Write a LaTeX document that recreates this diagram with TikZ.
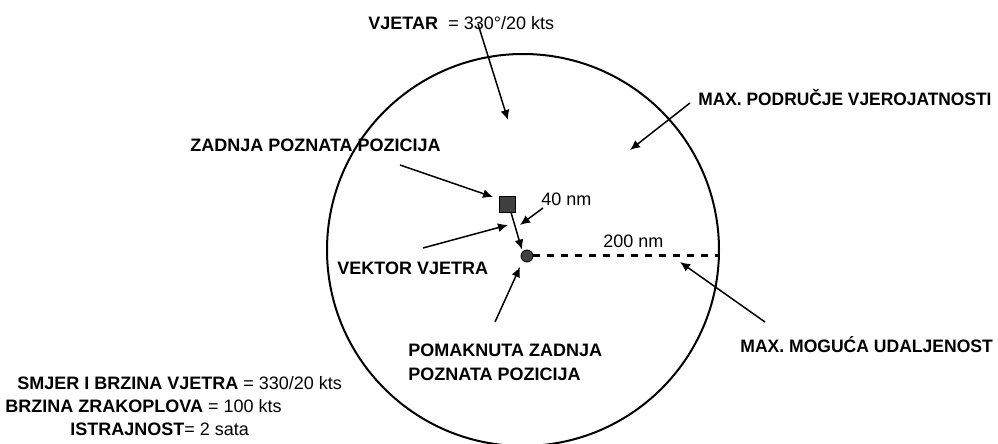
\documentclass[tikz,border=0pt]{standalone}
\usepackage{fontspec}
\usepackage{graphicx}
\setmainfont{Liberation Sans}
\usetikzlibrary{arrows.meta}
\newcommand{\txt}{\fontsize{9}{11}\selectfont}
\tikzset{
  lbl/.style={inner sep=0pt, anchor=base west, font=\txt\bfseries},
  val/.style={inner sep=0pt, anchor=base west, font=\txt},
  arr/.style={line width=0.75pt, -{Latex[length=5pt,width=4.5pt]}},
}
\begin{document}
\begin{tikzpicture}[x=0.5pt,y=-0.5pt]
\useasboundingbox (0,0) rectangle (998,444);
% podrucje
\node[draw, circle, line width=1pt, minimum size=196pt, inner sep=0pt] (krug) at (523,250) {};
\node[draw, fill=black!75, minimum size=8pt, inner sep=0pt] (zpp) at (507,204) {};
\node[draw, circle, fill=black!75, minimum size=6pt, inner sep=0pt] (pzpp) at (527,256) {};
\draw[line width=1.5pt, dash pattern=on 3.5pt off 3.5pt] (pzpp.east) -- (pzpp.east -| krug.east);
\draw[arr, shorten >=1pt] ([xshift=2pt]zpp.south) -- (pzpp.north west);
% tekstovi
\node[lbl] (vjetar) at (368,30) {VJETAR};
\node[val] (vjetar2) at (448,30) {= 330°/20 kts};
\node[lbl] (zadnja) at (190,152) {ZADNJA POZNATA POZICIJA};
\node[val] (d40) at (541,206) {40 nm};
\node[val] (d200) at (603,248) {200 nm};
\node[lbl] (vektor) at (337,275) {VEKTOR VJETRA};
\node[lbl] (podrucje) at (698,106) {\scalebox{0.965}[1]{MAX. PODRUČJE VJEROJATNOSTI}};
\node[lbl] (udaljenost) at (740,353) {\scalebox{0.975}[1]{MAX. MOGUĆA UDALJENOST}};
\node[lbl] (pomaknuta) at (408,357) {POMAKNUTA ZADNJA};
\node[lbl] (pomaknuta2) at (408,380) {POZNATA POZICIJA};
\node[lbl] (smjer) at (17,390) {SMJER I BRZINA VJETRA \mdseries= 330/20 kts};
\node[lbl] (brzina) at (5,413) {BRZINA ZRAKOPLOVA \mdseries= 100 kts};
\node[lbl] (istrajnost) at (70,436) {ISTRAJNOST\mdseries= 2 sata};
% strelice
\coordinate (a1) at (478,24);   \coordinate (b1) at (508,120);
\coordinate (a2) at (400,165);  \coordinate (b2) at (493,197);
\coordinate (a3) at (543,208);  \coordinate (b3) at (520,225);
\coordinate (a4) at (423,248);  \coordinate (b4) at (508,225);
\coordinate (a5) at (495,322);  \coordinate (b5) at (520,267);
\coordinate (a6) at (690,103);  \coordinate (b6) at (630,150);
\coordinate (a7) at (765,322);  \coordinate (b7) at (680,262);
\foreach \i in {1,...,7}
  \draw[arr] (a\i) -- (b\i);
\end{tikzpicture}
\end{document}
